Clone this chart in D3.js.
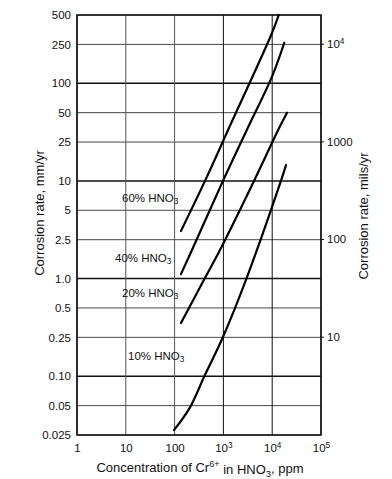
<!DOCTYPE html>
<html>
<head>
<meta charset="utf-8">
<script src="https://cdn.jsdelivr.net/npm/d3@7"></script>
<style>
  body { margin: 0; background: #fff; }
  text { font-family: "Liberation Sans Narrow", "Liberation Sans", Arial, sans-serif; fill: #111; }
</style>
</head>
<body>
<div id="chart"></div>
<script>
// Corrosion rate vs Cr6+ concentration, log-log

// x ticks (ppm) and y ticks (mm/yr, mils/yr)
const xTicks = [1, 10, 100, 1e3, 1e4, 1e5];
const xTickLabels = ["1", "10", "100", "10|3", "10|4", "10|5"];
const yTicks = [0.025, 0.05, 0.1, 0.25, 0.5, 1, 2.5, 5, 10, 25, 50, 100, 250, 500];
const yTickLabels = ["0.025", "0.05", "0.10", "0.25", "0.5", "1.0", "2.5", "5", "10", "25", "50", "100", "250", "500"];
const milsTicks = [10, 100, 1000, 1e4];
const milsTickLabels = ["10", "100", "1000", "10|4"];

// series: concentration (ppm) and rate (mm/yr)
const conc60 = [135, 420, 1240, 9900, 13600];
const rate60 = [3.07, 10, 33, 327, 500];
const conc40 = [135, 227, 980, 3000, 9900, 17700];
const rate40 = [1.11, 1.96, 10, 33, 117, 260];
const conc20 = [135, 400, 850, 4240, 13150, 20100];
const rate20 = [0.35, 0.97, 1.96, 10, 33, 50];
const conc10 = [97, 207, 400, 980, 2900, 15100, 19200];
const rate10 = [0.028, 0.048, 0.098, 0.252, 0.97, 10, 14.5];

const seriesNames = ["60% HNO|3", "40% HNO|3", "20% HNO|3", "10% HNO|3"];
const seriesConc = [conc60, conc40, conc20, conc10];
const seriesRate = [rate60, rate40, rate20, rate10];

const MM_TO_MILS = 39.37;

var svg = d3.select("#chart").append("svg")
    .attr("width", 392)
    .attr("height", 479);

var xScale = d3.scaleLog().domain([1, 1e5]).range([77, 321]);
var yScale = d3.scaleLog().domain([0.025, 500]).range([435, 15]);
var yMils = d3.scaleLog().domain([0.025 * MM_TO_MILS, 500 * MM_TO_MILS]).range([435, 15]);

// write "base|sub" or "base|sup" text as tspans
function richText(sel, str, mode) {
    var parts = str.split("|");
    sel.text(parts[0]);
    if (parts.length > 1) {
        sel.append("tspan")
            .attr("dy", mode == "sub" ? "0.3em" : "-0.5em")
            .attr("font-size", "0.72em")
            .text(parts[1]);
    }
}

// grid lines
var heavyY = [0.1, 1, 10, 100];
svg.append("g")
    .selectAll("line")
    .data(yTicks)
    .enter()
    .append("line")
    .attr("x1", xScale(1))
    .attr("x2", xScale(1e5))
    .attr("y1", d => yScale(d))
    .attr("y2", d => yScale(d))
    .attr("stroke", d => heavyY.includes(d) ? "#111" : "#333")
    .attr("stroke-width", d => heavyY.includes(d) ? 1.5 : 0.9);

svg.append("g")
    .selectAll("line")
    .data(xTicks)
    .enter()
    .append("line")
    .attr("x1", d => xScale(d))
    .attr("x2", d => xScale(d))
    .attr("y1", yScale(0.025))
    .attr("y2", yScale(500))
    .attr("stroke", d => (d == 10 || d == 100) ? "#555" : "#111")
    .attr("stroke-width", 1);

// frame
svg.append("rect")
    .attr("x", xScale(1))
    .attr("y", yScale(500))
    .attr("width", xScale(1e5) - xScale(1))
    .attr("height", yScale(0.025) - yScale(500))
    .attr("fill", "none")
    .attr("stroke", "#111")
    .attr("stroke-width", 1.5);

// left axis
var yAxis = svg.append("g")
    .attr("transform", "translate(" + xScale(1) + ",0)")
    .call(d3.axisLeft(yScale).tickValues(yTicks).tickSize(0).tickPadding(6)
        .tickFormat((d, i) => yTickLabels[i]));
yAxis.select(".domain").remove();
yAxis.selectAll("text").style("font-size", "11.5px");

// bottom axis
var xAxis = svg.append("g")
    .attr("transform", "translate(0," + yScale(0.025) + ")")
    .call(d3.axisBottom(xScale).tickValues(xTicks).tickSize(0).tickPadding(9)
        .tickFormat(() => ""));
xAxis.select(".domain").remove();
xAxis.selectAll("text")
    .style("font-size", "11.5px")
    .each(function(d, i) { richText(d3.select(this), xTickLabels[i], "sup"); });

// right axis (mils/yr)
var rAxis = svg.append("g")
    .attr("transform", "translate(" + xScale(1e5) + ",0)")
    .call(d3.axisRight(yMils).tickValues(milsTicks).tickSize(3).tickPadding(3)
        .tickFormat(() => ""));
rAxis.select(".domain").remove();
rAxis.selectAll("line").attr("stroke", "#111");
rAxis.selectAll("text")
    .style("font-size", "11.5px")
    .each(function(d, i) { richText(d3.select(this), milsTickLabels[i], "sup"); });

// axis titles
svg.append("text")
    .attr("transform", "translate(44,213) rotate(-90)")
    .attr("text-anchor", "middle")
    .style("font-size", "13px")
    .text("Corrosion rate, mm/yr");

svg.append("text")
    .attr("transform", "translate(368,216) rotate(-90)")
    .attr("text-anchor", "middle")
    .style("font-size", "13px")
    .text("Corrosion rate, mils/yr");

var xTitle = svg.append("text")
    .attr("x", 200)
    .attr("y", 472)
    .attr("text-anchor", "middle")
    .style("font-size", "13px")
    .text("Concentration of Cr");
xTitle.append("tspan").attr("dy", "-0.5em").attr("font-size", "0.7em").text("6+");
xTitle.append("tspan").attr("dy", "0.5em").text("  in HNO");
xTitle.append("tspan").attr("dy", "0.3em").attr("font-size", "0.72em").text("3");
xTitle.append("tspan").attr("dy", "-0.3em").text(", ppm");

// curves
var line = d3.line()
    .x(d => xScale(d[0]))
    .y(d => yScale(d[1]))
    .curve(d3.curveCatmullRom.alpha(0.5));

svg.append("g")
    .selectAll("path")
    .data(seriesConc.map((c, k) => c.map((v, j) => [v, seriesRate[k][j]])))
    .enter()
    .append("path")
    .attr("d", line)
    .attr("fill", "none")
    .attr("stroke", "#000")
    .attr("stroke-width", 2.2)
    .attr("stroke-linecap", "round");

// series labels, placed next to each line's lower end
const labelPos = [[122, 6.1], [115, 1.48], [122, 0.65], [128, 0.148]];
svg.append("g")
    .selectAll("text")
    .data(seriesNames)
    .enter()
    .append("text")
    .attr("x", (d, i) => labelPos[i][0])
    .attr("y", (d, i) => yScale(labelPos[i][1]))
    .style("font-size", "11.5px")
    .style("font-family", "'Liberation Sans', Arial, sans-serif")
    .each(function(d) { richText(d3.select(this), d, "sub"); });
</script>
</body>
</html>
